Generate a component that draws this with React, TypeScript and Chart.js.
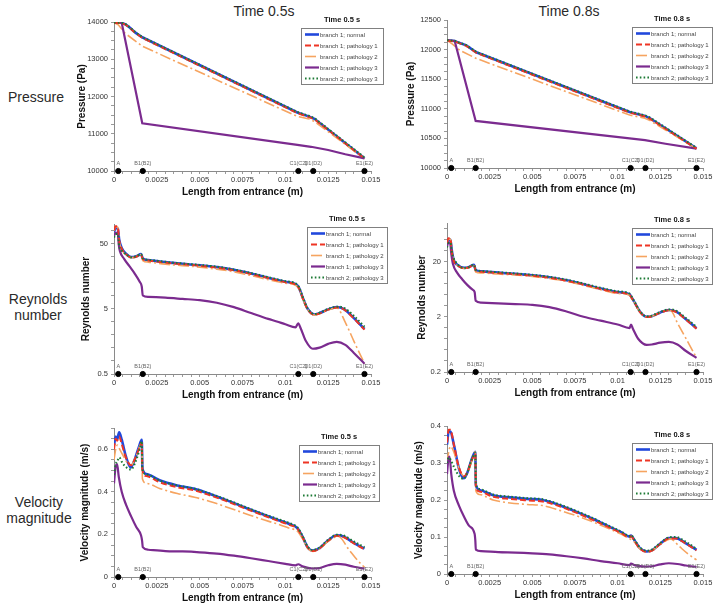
import React, { useEffect, useRef } from 'react';
import { Chart, registerables } from 'chart.js';

Chart.register(...registerables);

const FONT = '"Liberation Sans", Arial, Helvetica, sans-serif';
Chart.defaults.font.family = FONT;

type Pt = [number, number];

// ---------- text ----------
const COL_TITLES = ['Time 0.5s', 'Time 0.8s'];
const LEGEND_TITLES = ['Time 0.5 s', 'Time 0.8 s'];
const ROW_LABELS = [['Pressure'], ['Reynolds', 'number'], ['Velocity', 'magnitude']];
const Y_TITLES = ['Pressure (Pa)', 'Reynolds number', 'Velocity magnitude (m/s)'];
const X_TITLE = 'Length from entrance (m)';
const SERIES_LABELS = [
  'branch 1; normal',
  'branch 1; pathology 1',
  'branch 1; pathology 2',
  'branch 1; pathology 3',
  'branch 2; pathology 3',
];

// ---------- landmarks along the vessel ----------
const MARK_X = [0.00025, 0.00168, 0.01076, 0.01163, 0.01462];
const MARK_LABELS = ['A', 'B1(B2)', 'C1(C2)', 'D1(D2)', 'E1(E2)'];

// ---------- axis ticks ----------
const X_TICKS = [0, 0.0025, 0.005, 0.0075, 0.01, 0.0125, 0.015];
const X_TICK_LABELS = ['0', '0.0025', '0.005', '0.0075', '0.01', '0.0125', '0.015'];
const P05_TICKS = [10000, 11000, 12000, 13000, 14000];
const P08_TICKS = [10000, 10500, 11000, 11500, 12000, 12500];
const RE05_TICKS = [0.5, 5, 50];
const RE08_TICKS = [0.2, 2, 20];
const V05_TICKS = [0, 0.2, 0.4, 0.6];
const V08_TICKS = [0, 0.1, 0.2, 0.3, 0.4];

// ---------- Pressure, t = 0.5 s ----------
const P05_NORMAL: Pt[] = [[0,13985],[0.00045,13978],[0.0007,13930],[0.00095,13840],[0.00125,13715],[0.00165,13590],[0.0107,11570],[0.0114,11460],[0.0117,11400],[0.01462,10345]];
const P05_PATH1: Pt[] = [[0,13980],[0.00045,13972],[0.0007,13922],[0.00095,13830],[0.00125,13705],[0.00165,13575],[0.0107,11555],[0.0114,11448],[0.0117,11390],[0.01462,10338]];
const P05_PATH2: Pt[] = [[0,13985],[0.00025,13925],[0.00064,13700],[0.00165,13350],[0.0107,11465],[0.0114,11395],[0.0117,11330],[0.01462,10332]];
const P05_PATH3: Pt[] = [[0,13985],[0.00045,13978],[0.00165,11280],[0.0107,10700],[0.0115,10650],[0.0125,10565],[0.0135,10450],[0.01462,10340]];
const P05_B2P3: Pt[] = [[0,13988],[0.00045,13980],[0.0007,13938],[0.00095,13848],[0.00125,13725],[0.00165,13598],[0.0107,11585],[0.0114,11478],[0.0117,11420],[0.01462,10365]];

// ---------- Pressure, t = 0.8 s ----------
const P08_NORMAL: Pt[] = [[0,12158],[0.00045,12145],[0.00075,12110],[0.00113,12072],[0.00172,11955],[0.0107,10945],[0.0116,10880],[0.0119,10840],[0.01462,10332]];
const P08_PATH1: Pt[] = [[0,12152],[0.00045,12140],[0.00075,12104],[0.00113,12063],[0.00172,11945],[0.0107,10935],[0.0116,10871],[0.0119,10830],[0.01462,10326]];
const P08_PATH2: Pt[] = [[0,12158],[0.0003,12095],[0.00074,11990],[0.00172,11850],[0.0107,10895],[0.0116,10840],[0.0119,10800],[0.01462,10325]];
const P08_PATH3: Pt[] = [[0,12158],[0.00045,12145],[0.00168,10795],[0.0107,10500],[0.0116,10472],[0.0128,10410],[0.01462,10326]];
const P08_B2P3: Pt[] = [[0,12160],[0.00045,12148],[0.00075,12115],[0.00113,12077],[0.00172,11962],[0.0107,10955],[0.0116,10890],[0.0119,10852],[0.01462,10342]];

// ---------- Reynolds number, t = 0.5 s ----------
const RE05_NORMAL: Pt[] = [[0,75],[0.00008,86],[0.00022,86],[0.0003,58],[0.00045,43],[0.0007,35],[0.001,31],[0.0013,32],[0.00158,34.5],[0.00168,29.5],[0.002,28],[0.003,26],[0.004,24.5],[0.005,23.3],[0.006,21.8],[0.007,19.8],[0.008,17.4],[0.009,15],[0.01,13],[0.0106,12],[0.0108,10.5],[0.011,7.6],[0.0113,5],[0.0117,4.1],[0.012,4.3],[0.0125,4.9],[0.013,5.3],[0.0134,5.0],[0.014,3.6],[0.01462,2.45]];
const RE05_PATH1: Pt[] = [[0,80],[0.00008,92],[0.00022,92],[0.0003,57],[0.00045,42],[0.0007,34.5],[0.001,30.5],[0.0013,31.5],[0.00158,34],[0.00168,29],[0.002,27.5],[0.003,25.6],[0.004,24.1],[0.005,22.9],[0.006,21.4],[0.007,19.5],[0.008,17.1],[0.009,14.8],[0.01,12.8],[0.0106,11.8],[0.0108,10.3],[0.011,7.5],[0.0113,4.9],[0.0117,4.05],[0.012,4.25],[0.0125,4.85],[0.013,5.25],[0.0134,4.95],[0.014,3.55],[0.01462,2.4]];
const RE05_PATH2: Pt[] = [[0,78],[0.00008,90],[0.00022,90],[0.0003,55],[0.00045,40],[0.0007,34],[0.001,30.5],[0.0013,31.5],[0.00158,34],[0.00168,27.5],[0.002,26],[0.003,24.2],[0.004,23],[0.005,21.8],[0.006,20.3],[0.007,18.5],[0.008,16.2],[0.009,14],[0.01,12.3],[0.0106,11.5],[0.0108,10],[0.011,7.3],[0.0113,4.9],[0.0117,4.0],[0.012,4.2],[0.0125,4.8],[0.013,5.2],[0.0135,3.1],[0.014,1.6],[0.01462,0.72]];
const RE05_PATH3: Pt[] = [[0,66],[0.0001,73],[0.00022,73],[0.00028,48],[0.00035,38],[0.0006,29],[0.0009,22.5],[0.0012,17.5],[0.0015,13],[0.00162,11],[0.00168,8],[0.002,7.6],[0.003,7.4],[0.004,7.1],[0.005,6.8],[0.006,6.2],[0.007,5.3],[0.008,4.3],[0.009,3.5],[0.0095,3.2],[0.01,2.9],[0.0106,2.6],[0.01075,3.0],[0.0109,2.5],[0.0112,1.6],[0.0116,1.22],[0.012,1.27],[0.0125,1.45],[0.013,1.56],[0.0135,1.4],[0.014,1.05],[0.01462,0.72]];
const RE05_B2P3: Pt[] = [[0,62],[0.0001,70],[0.00022,70],[0.0003,46],[0.0005,38],[0.0008,33],[0.001,31],[0.0013,32],[0.00158,34.5],[0.00168,29.8],[0.002,28.3],[0.003,26.3],[0.004,24.8],[0.005,23.6],[0.006,22.1],[0.007,20.1],[0.008,17.7],[0.009,15.3],[0.01,13.3],[0.0106,12.3],[0.0108,10.8],[0.011,7.8],[0.0113,5.1],[0.0117,4.15],[0.012,4.35],[0.0125,5.0],[0.013,5.4],[0.0134,5.2],[0.014,3.9],[0.01462,2.65]];

// ---------- Reynolds number, t = 0.8 s ----------
const RE08_NORMAL: Pt[] = [[0,42],[0.00008,50],[0.0002,50],[0.00028,32],[0.00038,22],[0.0006,17.5],[0.001,15.4],[0.0013,16],[0.00158,17.5],[0.00168,14],[0.002,13.3],[0.003,12.6],[0.004,12],[0.005,11.3],[0.006,10.4],[0.007,9.2],[0.008,7.8],[0.009,6.5],[0.01,5.6],[0.0107,5.1],[0.0108,4.6],[0.011,3.6],[0.0113,2.5],[0.0117,2.0],[0.012,2.05],[0.0125,2.4],[0.013,2.65],[0.0134,2.5],[0.014,1.8],[0.01462,1.24]];
const RE08_PATH1: Pt[] = [[0,44],[0.00008,53],[0.0002,53],[0.00028,31],[0.00038,21.5],[0.0006,17.2],[0.001,15.2],[0.0013,15.8],[0.00158,17.3],[0.00168,13.8],[0.002,13.1],[0.003,12.4],[0.004,11.8],[0.005,11.1],[0.006,10.2],[0.007,9.0],[0.008,7.7],[0.009,6.4],[0.01,5.5],[0.0107,5.0],[0.0108,4.5],[0.011,3.55],[0.0113,2.45],[0.0117,1.98],[0.012,2.03],[0.0125,2.38],[0.013,2.62],[0.0134,2.47],[0.014,1.78],[0.01462,1.22]];
const RE08_PATH2: Pt[] = [[0,43],[0.00008,51],[0.0002,51],[0.00028,30],[0.00038,21],[0.0006,17],[0.001,15],[0.0013,15.6],[0.00158,17],[0.00168,13],[0.002,12.5],[0.003,11.9],[0.004,11.4],[0.005,10.8],[0.006,9.9],[0.007,8.8],[0.008,7.4],[0.009,6.2],[0.01,5.3],[0.0107,4.9],[0.0108,4.4],[0.011,3.5],[0.0113,2.45],[0.0117,1.98],[0.012,2.05],[0.0125,2.4],[0.0131,2.6],[0.0135,1.55],[0.014,0.81],[0.01462,0.36]];
const RE08_PATH3: Pt[] = [[0,38],[0.00008,44],[0.00018,44],[0.00025,28],[0.00035,18],[0.0006,12.5],[0.0009,9.5],[0.0012,7.5],[0.0015,6.2],[0.00162,5.6],[0.00168,3.9],[0.002,3.6],[0.003,3.5],[0.004,3.4],[0.005,3.3],[0.006,3.0],[0.007,2.5],[0.008,2.0],[0.009,1.7],[0.01,1.45],[0.0107,1.25],[0.01078,1.45],[0.0109,1.2],[0.0112,0.8],[0.0117,0.62],[0.012,0.63],[0.0125,0.68],[0.013,0.7],[0.0135,0.63],[0.014,0.48],[0.01462,0.36]];
const RE08_B2P3: Pt[] = [[0,36],[0.0001,44],[0.0002,44],[0.0003,28],[0.0005,20],[0.0008,16],[0.001,15.3],[0.0013,16],[0.00158,17.6],[0.00168,14.2],[0.002,13.5],[0.003,12.8],[0.004,12.2],[0.005,11.5],[0.006,10.6],[0.007,9.4],[0.008,8],[0.009,6.7],[0.01,5.8],[0.0107,5.25],[0.0108,4.75],[0.011,3.7],[0.0113,2.55],[0.0117,2.03],[0.012,2.1],[0.0125,2.45],[0.013,2.72],[0.0134,2.6],[0.014,1.9],[0.01462,1.32]];

// ---------- Velocity magnitude, t = 0.5 s ----------
const V05_NORMAL: Pt[] = [[0,0.62],[0.0001,0.66],[0.00018,0.645],[0.0003,0.68],[0.00045,0.645],[0.0007,0.565],[0.00097,0.515],[0.0012,0.55],[0.00145,0.61],[0.00162,0.645],[0.00166,0.51],[0.0019,0.484],[0.0027,0.453],[0.0037,0.43],[0.0047,0.414],[0.0056,0.39],[0.0066,0.36],[0.0076,0.328],[0.0086,0.297],[0.0095,0.27],[0.0102,0.25],[0.0107,0.23],[0.011,0.19],[0.0113,0.14],[0.0116,0.124],[0.012,0.136],[0.0125,0.172],[0.013,0.196],[0.0134,0.19],[0.014,0.16],[0.01462,0.133]];
const V05_PATH1: Pt[] = [[0,0.6],[0.0001,0.65],[0.00018,0.64],[0.0003,0.66],[0.00045,0.625],[0.0007,0.56],[0.001,0.525],[0.0012,0.55],[0.00145,0.6],[0.00162,0.63],[0.00166,0.5],[0.0019,0.474],[0.0027,0.444],[0.0037,0.422],[0.0047,0.407],[0.0056,0.384],[0.0066,0.355],[0.0076,0.324],[0.0086,0.293],[0.0095,0.266],[0.0102,0.246],[0.0107,0.227],[0.011,0.188],[0.0113,0.139],[0.0116,0.122],[0.012,0.134],[0.0125,0.17],[0.013,0.194],[0.0134,0.188],[0.014,0.158],[0.01462,0.13]];
const V05_PATH2: Pt[] = [[0,0.55],[0.0001,0.6],[0.0002,0.62],[0.0003,0.605],[0.0005,0.575],[0.0008,0.535],[0.001,0.525],[0.0013,0.57],[0.00162,0.63],[0.00166,0.46],[0.0019,0.44],[0.0027,0.415],[0.0037,0.392],[0.0047,0.375],[0.0056,0.355],[0.0066,0.328],[0.0076,0.3],[0.0086,0.272],[0.0095,0.25],[0.0102,0.23],[0.0107,0.215],[0.011,0.18],[0.0113,0.135],[0.0116,0.12],[0.012,0.132],[0.0125,0.168],[0.0131,0.19],[0.0137,0.13],[0.0142,0.08],[0.01462,0.045]];
const V05_PATH3: Pt[] = [[0,0.44],[0.0001,0.52],[0.00018,0.53],[0.00028,0.47],[0.00045,0.4],[0.0007,0.34],[0.001,0.285],[0.0013,0.235],[0.00158,0.195],[0.00164,0.17],[0.00168,0.14],[0.002,0.128],[0.003,0.122],[0.004,0.12],[0.005,0.116],[0.006,0.11],[0.007,0.1],[0.008,0.088],[0.009,0.075],[0.01,0.062],[0.0106,0.055],[0.01075,0.06],[0.011,0.05],[0.0116,0.04],[0.012,0.042],[0.0125,0.055],[0.013,0.062],[0.0135,0.058],[0.014,0.048],[0.01462,0.039]];
const V05_B2P3: Pt[] = [[0,0.48],[0.0001,0.53],[0.0002,0.545],[0.0003,0.562],[0.0005,0.535],[0.0008,0.51],[0.001,0.505],[0.0012,0.53],[0.0015,0.6],[0.00162,0.638],[0.00166,0.505],[0.0019,0.482],[0.0027,0.452],[0.0037,0.43],[0.0047,0.415],[0.0056,0.392],[0.0066,0.363],[0.0076,0.331],[0.0086,0.3],[0.0095,0.274],[0.0102,0.254],[0.0107,0.234],[0.011,0.194],[0.0113,0.143],[0.0116,0.127],[0.012,0.139],[0.0125,0.175],[0.013,0.199],[0.0134,0.195],[0.014,0.167],[0.01462,0.14]];

// ---------- Velocity magnitude, t = 0.8 s ----------
const V08_NORMAL: Pt[] = [[0,0.35],[0.0001,0.385],[0.0002,0.385],[0.0004,0.35],[0.0007,0.285],[0.00098,0.259],[0.0012,0.275],[0.00145,0.31],[0.00166,0.33],[0.00169,0.241],[0.0019,0.227],[0.0027,0.213],[0.0037,0.207],[0.0047,0.203],[0.0056,0.2],[0.0066,0.186],[0.0076,0.168],[0.0086,0.148],[0.0095,0.128],[0.0102,0.113],[0.0107,0.101],[0.01078,0.104],[0.011,0.09],[0.0113,0.07],[0.0117,0.061],[0.012,0.064],[0.0125,0.082],[0.013,0.097],[0.0134,0.097],[0.014,0.083],[0.01462,0.065]];
const V08_PATH1: Pt[] = [[0,0.355],[0.0001,0.39],[0.0002,0.39],[0.0004,0.35],[0.0007,0.288],[0.001,0.264],[0.0012,0.276],[0.00145,0.308],[0.00166,0.325],[0.00169,0.236],[0.0019,0.223],[0.0027,0.209],[0.0037,0.203],[0.0047,0.199],[0.0056,0.196],[0.0066,0.183],[0.0076,0.165],[0.0086,0.145],[0.0095,0.126],[0.0102,0.111],[0.0107,0.099],[0.01078,0.102],[0.011,0.088],[0.0113,0.069],[0.0117,0.06],[0.012,0.063],[0.0125,0.081],[0.013,0.096],[0.0134,0.096],[0.014,0.082],[0.01462,0.064]];
const V08_PATH2: Pt[] = [[0,0.3],[0.0001,0.33],[0.0002,0.345],[0.0004,0.33],[0.0007,0.285],[0.001,0.265],[0.0013,0.285],[0.00166,0.33],[0.00169,0.225],[0.0019,0.215],[0.0027,0.2],[0.0037,0.192],[0.0047,0.188],[0.0056,0.185],[0.0066,0.172],[0.0076,0.157],[0.0086,0.14],[0.0095,0.122],[0.0102,0.108],[0.0107,0.095],[0.011,0.086],[0.0113,0.068],[0.0117,0.06],[0.012,0.063],[0.0125,0.08],[0.0131,0.095],[0.0136,0.075],[0.0141,0.055],[0.01462,0.038]];
const V08_PATH3: Pt[] = [[0,0.27],[0.00008,0.31],[0.00015,0.317],[0.00025,0.27],[0.0004,0.225],[0.0007,0.185],[0.001,0.155],[0.0013,0.13],[0.00162,0.108],[0.00166,0.09],[0.00169,0.066],[0.002,0.062],[0.003,0.059],[0.004,0.058],[0.005,0.056],[0.006,0.053],[0.007,0.048],[0.008,0.042],[0.009,0.035],[0.01,0.029],[0.0107,0.024],[0.01078,0.028],[0.011,0.024],[0.0116,0.02],[0.012,0.021],[0.0125,0.026],[0.013,0.029],[0.0135,0.027],[0.014,0.023],[0.01462,0.019]];
const V08_B2P3: Pt[] = [[0,0.3],[0.0001,0.315],[0.0002,0.31],[0.0004,0.29],[0.0007,0.265],[0.00098,0.257],[0.0012,0.275],[0.00145,0.31],[0.00166,0.328],[0.00169,0.245],[0.0019,0.23],[0.0027,0.215],[0.0037,0.209],[0.0047,0.205],[0.0056,0.202],[0.0066,0.188],[0.0076,0.17],[0.0086,0.15],[0.0095,0.13],[0.0102,0.115],[0.0107,0.103],[0.01078,0.106],[0.011,0.092],[0.0113,0.072],[0.0117,0.063],[0.012,0.066],[0.0125,0.084],[0.013,0.099],[0.0134,0.1],[0.014,0.087],[0.01462,0.068]];

// ---------- styles ----------
const SERIES_STYLE = [
  { color: '#2148dc', width: 2.6, dash: [] as number[], order: 5 },
  { color: '#ee3524', width: 2, dash: [6, 3], order: 2 },
  { color: '#f6a460', width: 1.6, dash: [11, 3, 2, 3], order: 4 },
  { color: '#7b2b8f', width: 2.2, dash: [] as number[], order: 3 },
  { color: '#1d7a35', width: 2, dash: [1.6, 2.2], order: 1 },
];
const X_AXIS_H = 31;

function linTicks(min: number, max: number, step: number) {
  const out: number[] = [];
  const n = Math.round((max - min) / step);
  for (let k = 0; k <= n; k++) out.push(+(min + k * step).toFixed(8));
  return out;
}
function logTicks(min: number, max: number, perDecade: number) {
  const out: number[] = [];
  for (let k = 0; k < 200; k++) {
    const v = min * Math.pow(10, k / perDecade);
    if (v > max * 1.0001) break;
    out.push(v);
  }
  return out;
}
function majorIndex(list: number[], v: number) {
  return list.findIndex((m) => Math.abs(m - v) <= Math.abs(m) * 1e-6 + 1e-12);
}

interface PanelCfg {
  key: string;
  col: number;
  series: Pt[][];
  yTitle: string;
  log: boolean;
  yMin: number;
  yMax: number;
  yMajor: number[];
  yAll: number[];
  smooth: boolean;
  canvas: { x: number; y: number; w: number; h: number };
  area: { l: number; r: number; t: number; b: number };
  scaleLeft: number;
  legend: { x: number; y: number; w: number; h: number };
}

const LEFT_CANVAS = { x: 60, w: 330 };
const RIGHT_CANVAS = { x: 392, w: 331 };

const PANELS: PanelCfg[] = [
  {
    key: 'p05', col: 0, series: [P05_NORMAL, P05_PATH1, P05_PATH2, P05_PATH3, P05_B2P3],
    yTitle: Y_TITLES[0], log: false, yMin: 10000, yMax: 14000, yMajor: P05_TICKS, yAll: linTicks(10000, 14000, 250), smooth: false,
    canvas: { x: LEFT_CANVAS.x, y: 0, w: LEFT_CANVAS.w, h: 202 }, area: { l: 114, r: 371, t: 22, b: 171 }, scaleLeft: 72,
    legend: { x: 301, y: 28, w: 82, h: 56 },
  },
  {
    key: 'p08', col: 1, series: [P08_NORMAL, P08_PATH1, P08_PATH2, P08_PATH3, P08_B2P3],
    yTitle: Y_TITLES[0], log: false, yMin: 10000, yMax: 12500, yMajor: P08_TICKS, yAll: linTicks(10000, 12500, 125), smooth: false,
    canvas: { x: RIGHT_CANVAS.x, y: 0, w: RIGHT_CANVAS.w, h: 202 }, area: { l: 447, r: 703, t: 20, b: 168 }, scaleLeft: 401,
    legend: { x: 632, y: 27, w: 80, h: 56 },
  },
  {
    key: 're05', col: 0, series: [RE05_NORMAL, RE05_PATH1, RE05_PATH2, RE05_PATH3, RE05_B2P3],
    yTitle: Y_TITLES[1], log: true, yMin: 0.5, yMax: 100, yMajor: RE05_TICKS, yAll: logTicks(0.5, 100, 5), smooth: true,
    canvas: { x: LEFT_CANVAS.x, y: 202, w: LEFT_CANVAS.w, h: 204 }, area: { l: 114, r: 371, t: 224, b: 374 }, scaleLeft: 76,
    legend: { x: 307, y: 227, w: 80, h: 56 },
  },
  {
    key: 're08', col: 1, series: [RE08_NORMAL, RE08_PATH1, RE08_PATH2, RE08_PATH3, RE08_B2P3],
    yTitle: Y_TITLES[1], log: true, yMin: 0.2, yMax: 100, yMajor: RE08_TICKS, yAll: logTicks(0.2, 100, 5), smooth: true,
    canvas: { x: RIGHT_CANVAS.x, y: 202, w: RIGHT_CANVAS.w, h: 204 }, area: { l: 447, r: 703, t: 223, b: 372 }, scaleLeft: 412,
    legend: { x: 632, y: 228, w: 80, h: 56 },
  },
  {
    key: 'v05', col: 0, series: [V05_NORMAL, V05_PATH1, V05_PATH2, V05_PATH3, V05_B2P3],
    yTitle: Y_TITLES[2], log: false, yMin: 0, yMax: 0.7, yMajor: V05_TICKS, yAll: linTicks(0, 0.7, 0.05), smooth: true,
    canvas: { x: LEFT_CANVAS.x, y: 406, w: LEFT_CANVAS.w, h: 210 }, area: { l: 114, r: 371, t: 428, b: 577 }, scaleLeft: 75,
    legend: { x: 299, y: 445, w: 80, h: 56 },
  },
  {
    key: 'v08', col: 1, series: [V08_NORMAL, V08_PATH1, V08_PATH2, V08_PATH3, V08_B2P3],
    yTitle: Y_TITLES[2], log: false, yMin: 0, yMax: 0.4, yMajor: V08_TICKS, yAll: linTicks(0, 0.4, 0.025), smooth: true,
    canvas: { x: RIGHT_CANVAS.x, y: 406, w: RIGHT_CANVAS.w, h: 210 }, area: { l: 447, r: 703, t: 426, b: 574 }, scaleLeft: 409,
    legend: { x: 632, y: 443, w: 80, h: 56 },
  },
];

function decorPlugin(cfg: PanelCfg) {
  return {
    id: 'decor_' + cfg.key,
    afterDatasetsDraw(chart: any) {
      const ctx = chart.ctx as CanvasRenderingContext2D;
      const xs = chart.scales.x;
      const a = chart.chartArea;
      ctx.save();
      // landmark labels
      ctx.font = `5.5px ${FONT}`;
      ctx.fillStyle = '#666';
      ctx.textAlign = 'center';
      ctx.textBaseline = 'middle';
      MARK_X.forEach((mx, i) => ctx.fillText(MARK_LABELS[i], xs.getPixelForValue(mx), a.bottom - 8));
      // legend box
      const bx = cfg.legend.x - cfg.canvas.x;
      const by = cfg.legend.y - cfg.canvas.y;
      const bw = cfg.legend.w;
      const bh = cfg.legend.h;
      ctx.fillStyle = '#fff';
      ctx.fillRect(bx, by, bw, bh);
      ctx.strokeStyle = '#808080';
      ctx.lineWidth = 1;
      ctx.strokeRect(Math.round(bx) + 0.5, Math.round(by) + 0.5, bw, bh);
      ctx.fillStyle = '#111';
      ctx.font = `bold 7.5px ${FONT}`;
      ctx.fillText(LEGEND_TITLES[cfg.col], bx + bw / 2, by - 8);
      ctx.textAlign = 'left';
      ctx.font = `6px ${FONT}`;
      let row = 0;
      chart.data.datasets.forEach((ds: any) => {
        if (ds.isMarker) return;
        const y = by + 6.5 + row * 11;
        row++;
        ctx.save();
        ctx.strokeStyle = ds.borderColor;
        ctx.lineWidth = ds.borderWidth;
        ctx.setLineDash(ds.borderDash || []);
        ctx.beginPath();
        ctx.moveTo(bx + 4, y);
        ctx.lineTo(bx + 18, y);
        ctx.stroke();
        ctx.restore();
        ctx.fillStyle = '#444';
        ctx.fillText(ds.label, bx + 19, y + 0.5);
      });
      ctx.restore();
    },
  };
}

function makeConfig(cfg: PanelCfg): any {
  const padding = {
    left: cfg.scaleLeft - cfg.canvas.x,
    right: cfg.canvas.x + cfg.canvas.w - cfg.area.r,
    top: cfg.area.t - cfg.canvas.y,
    bottom: cfg.canvas.y + cfg.canvas.h - (cfg.area.b + X_AXIS_H),
  };
  const xAll = linTicks(0, 0.015, 0.0005);
  const datasets: any[] = cfg.series.map((d, i) => ({
    label: SERIES_LABELS[i],
    data: d.map(([x, y]) => ({ x, y })),
    borderColor: SERIES_STYLE[i].color,
    backgroundColor: SERIES_STYLE[i].color,
    borderWidth: SERIES_STYLE[i].width,
    borderDash: SERIES_STYLE[i].dash,
    pointRadius: 0,
    pointHoverRadius: 0,
    fill: false,
    tension: 0,
    cubicInterpolationMode: cfg.smooth ? 'monotone' : 'default',
    order: SERIES_STYLE[i].order,
  }));
  datasets.push({
    label: 'landmarks',
    isMarker: true,
    data: MARK_X.map((x) => ({ x, y: cfg.yMin })),
    showLine: false,
    pointRadius: 2.6,
    pointBackgroundColor: '#000',
    pointBorderColor: '#000',
    borderColor: '#000',
    backgroundColor: '#000',
    clip: false,
    order: 0,
  });
  const grid = { display: true, drawOnChartArea: false, drawTicks: true, tickLength: 3, color: '#9a9a9a', lineWidth: 1 };
  const border = { display: true, color: '#8a8a8a', width: 1 };
  return {
    type: 'line',
    data: { datasets },
    options: {
      animation: false,
      responsive: false,
      devicePixelRatio: 1,
      events: [],
      layout: { padding },
      plugins: { legend: { display: false }, tooltip: { enabled: false }, title: { display: false } },
      scales: {
        x: {
          type: 'linear',
          min: 0,
          max: 0.015,
          afterBuildTicks: (s: any) => { s.ticks = xAll.map((v) => ({ value: v })); },
          afterFit: (s: any) => { s.height = X_AXIS_H; },
          ticks: {
            autoSkip: false, maxRotation: 0, minRotation: 0, padding: 1,
            font: { size: 7.5 }, color: '#333',
            callback: (v: number) => { const i = majorIndex(X_TICKS, v); return i >= 0 ? X_TICK_LABELS[i] : ''; },
          },
          grid, border,
          title: { display: true, text: X_TITLE, font: { size: 10, weight: 'bold' }, color: '#111', padding: { top: 2, bottom: 4 } },
        },
        y: {
          type: cfg.log ? 'logarithmic' : 'linear',
          min: cfg.yMin,
          max: cfg.yMax,
          afterBuildTicks: (s: any) => { s.ticks = cfg.yAll.map((v) => ({ value: v })); },
          afterFit: (s: any) => { s.width = cfg.area.l - cfg.scaleLeft; },
          ticks: {
            autoSkip: false, padding: 3, font: { size: 7.5 }, color: '#333',
            callback: (v: number) => { const i = majorIndex(cfg.yMajor, v); return i >= 0 ? String(cfg.yMajor[i]) : ''; },
          },
          grid, border,
          title: { display: true, text: cfg.yTitle, font: { size: 10, weight: 'bold' }, color: '#111', padding: { top: 4, bottom: 4 } },
        },
      },
    },
    plugins: [decorPlugin(cfg)],
  };
}

function Panel({ cfg }: { cfg: PanelCfg }) {
  const ref = useRef<HTMLCanvasElement | null>(null);
  useEffect(() => {
    if (!ref.current) return;
    const chart = new Chart(ref.current, makeConfig(cfg));
    return () => chart.destroy();
  }, [cfg]);
  return (
    <canvas
      ref={ref}
      width={cfg.canvas.w}
      height={cfg.canvas.h}
      style={{ position: 'absolute', left: cfg.canvas.x, top: cfg.canvas.y, width: cfg.canvas.w, height: cfg.canvas.h }}
    />
  );
}

const COL_TITLE_POS = [{ x: 264, y: 11 }, { x: 569, y: 11 }];
const ROW_LABEL_POS = [{ x: 36, y: 97 }, { x: 38, y: 307 }, { x: 39, y: 510 }];

export default function App() {
  return (
    <div
      style={{
        position: 'fixed', left: 0, top: 0, width: 723, height: 603, overflow: 'hidden',
        background: '#fff', fontFamily: FONT, color: '#2a2a2a',
      }}
    >
      {COL_TITLES.map((t, i) => (
        <div key={t} style={{
          position: 'absolute', left: COL_TITLE_POS[i].x, top: COL_TITLE_POS[i].y,
          transform: 'translate(-50%, -50%)', fontSize: 14, whiteSpace: 'nowrap', lineHeight: '16px',
        }}>{t}</div>
      ))}
      {ROW_LABELS.map((lines, i) => (
        <div key={i} style={{
          position: 'absolute', left: ROW_LABEL_POS[i].x, top: ROW_LABEL_POS[i].y,
          transform: 'translate(-50%, -50%)', fontSize: 14, lineHeight: '16px', textAlign: 'center', whiteSpace: 'nowrap',
        }}>
          {lines.map((l) => <div key={l}>{l}</div>)}
        </div>
      ))}
      {PANELS.map((p) => <Panel key={p.key} cfg={p} />)}
    </div>
  );
}
